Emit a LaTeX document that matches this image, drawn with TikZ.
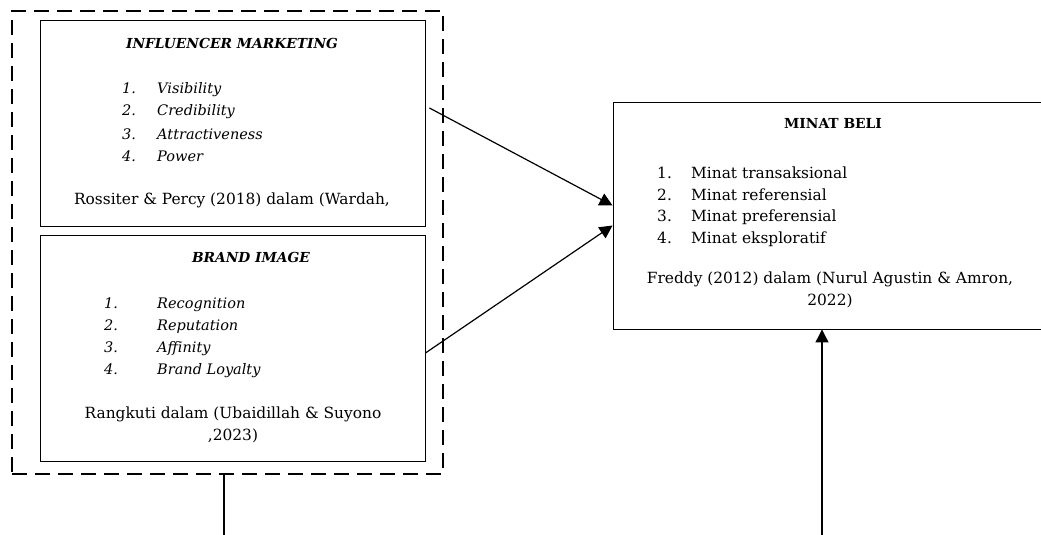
\documentclass[tikz,border=0pt]{standalone}
\usepackage{fontspec}
\setmainfont{DejaVu Serif}
\usetikzlibrary{positioning,arrows.meta}

\begin{document}
\begin{tikzpicture}[x=1pt,y=-1pt,
  box/.style={rectangle,draw=black,line width=0.9pt,inner sep=0pt},
  grpbox/.style={rectangle,draw=black,line width=2.5pt,dash pattern=on 15pt off 8pt,inner sep=0pt},
  txt/.style={inner sep=0pt,font=\fontsize{15.4}{22}\selectfont},
  itxt/.style={inner sep=0pt,anchor=west,font=\fontsize{14.5}{22}\selectfont\itshape},
  ttl/.style={inner sep=0pt,font=\fontsize{13.8}{22}\selectfont\bfseries},
  arr/.style={line width=1.2pt,-{Triangle[length=13pt,width=13pt]}}]
  \useasboundingbox (0,0) rectangle (1041,535);

  %dashed group
  \node [grpbox,minimum width=431pt,minimum height=463pt] (grp) at (227.5,242.5) {};

  %left boxes
  \node [box,minimum width=385pt,minimum height=206pt] (im) at (232.5,123) {};
  \node [box,minimum width=385pt,minimum height=226pt] (bi) at (232.5,348) {};

  %right box
  \node [box,minimum width=440pt,minimum height=227pt] (mb) at (833,215.5) {};

  %influencer marketing
  \node [ttl,font=\fontsize{13.8}{22}\selectfont\bfseries\itshape] (imt) at (232,43) {INFLUENCER MARKETING};
  \node [itxt] (im1) at (122,90) {\makebox[35pt][l]{1.}Visibility};
  \node [itxt] (im2) at (122,112) {\makebox[35pt][l]{2.}Credibility};
  \node [itxt] (im3) at (122,134) {\makebox[35pt][l]{3.}Attractiveness};
  \node [itxt] (im4) at (122,156) {\makebox[35pt][l]{4.}Power};
  \node [txt] (ims) at (232,200) {Rossiter \& Percy (2018) dalam (Wardah,};

  %brand image
  \node [ttl,font=\fontsize{13.8}{22}\selectfont\bfseries\itshape] (bit) at (251,257) {BRAND IMAGE};
  \node [itxt] (bi1) at (104,305) {\makebox[53pt][l]{1.}Recognition};
  \node [itxt] (bi2) at (104,327) {\makebox[53pt][l]{2.}Reputation};
  \node [itxt] (bi3) at (104,349) {\makebox[53pt][l]{3.}Affinity};
  \node [itxt] (bi4) at (104,371) {\makebox[53pt][l]{4.}Brand Loyalty};
  \node [txt,align=center] (bis) at (233,425) {Rangkuti dalam (Ubaidillah \& Suyono\\,2023)};

  %minat beli
  \node [ttl] (mbt) at (833,123) {MINAT BELI};
  \node [txt,anchor=west] (mb1) at (657,173) {\makebox[34pt][l]{1.}Minat transaksional};
  \node [txt,anchor=west] (mb2) at (657,195) {\makebox[34pt][l]{2.}Minat referensial};
  \node [txt,anchor=west] (mb3) at (657,217) {\makebox[34pt][l]{3.}Minat preferensial};
  \node [txt,anchor=west] (mb4) at (657,239) {\makebox[34pt][l]{4.}Minat eksploratif};
  \node [txt,align=center] (mbs) at (830,290) {Freddy (2012) dalam (Nurul Agustin \& Amron,\\2022)};

  %edges
  \coordinate (lb) at (224,535);
  \coordinate (rb) at (822,535);
  \draw [arr] ([xshift=4pt,yshift=15pt]im.east) -- ([yshift=10pt]mb.west);
  \draw [arr] ([yshift=-5pt]bi.east) -- ([yshift=-10pt]mb.west);
  \draw [line width=1.2pt] ([xshift=-3.5pt]grp.south) -- (lb);
  \draw [arr] (rb) -- ([xshift=-11pt]mb.south);
\end{tikzpicture}
\end{document}
